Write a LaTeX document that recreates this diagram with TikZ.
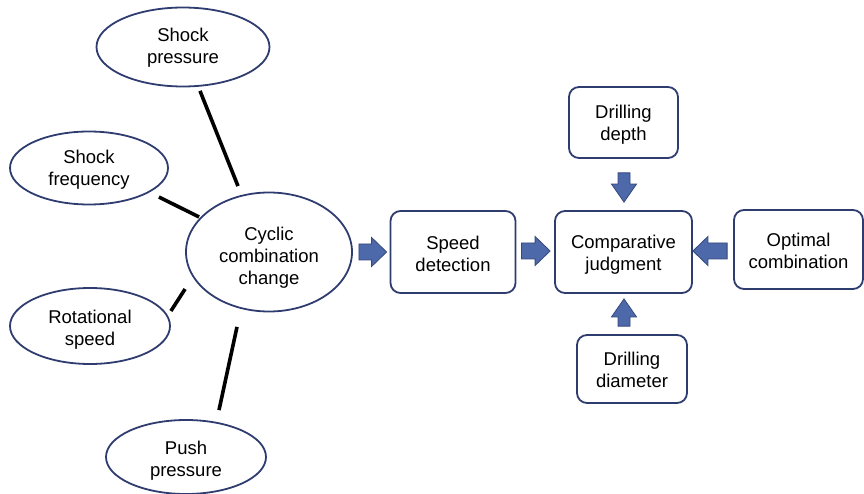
\documentclass[tikz,border=0pt]{standalone}
\usepackage{fontspec}
\setmainfont{Liberation Sans}
\usetikzlibrary{calc,shapes.geometric}
\definecolor{edge}{HTML}{2F3C70}
\definecolor{afill}{HTML}{4E69AA}
\definecolor{aline}{HTML}{34497E}
\newcommand\nodetxt[2]{\raisebox{0pt}[\dimexpr\height+#1\relax]{\begin{tabular}{@{}c@{}}#2\end{tabular}}}
\tikzset{
  txt/.style={font=\fontsize{18.5}{22}\selectfont, text=black},
  oval/.style={txt, ellipse, draw=edge, line width=1.8pt, inner sep=0pt},
  rbox/.style={txt, draw=edge, line width=1.8pt, rounded corners=10pt, inner sep=0pt},
  link/.style={line width=3.6pt, black},
  arr/.style={fill=afill, draw=aline, line width=0.8pt, line join=miter},
}
\newcommand\fatarrow[5]{% #1 from, #2 to, #3 head length, #4 shaft half, #5 head half
  \coordinate (faA) at #1;
  \coordinate (faB) at #2;
  \coordinate (faH) at ($(faB)!#3!(faA)$);
  \filldraw[arr] ($(faA)!#4!90:(faB)$) -- ($(faH)!#4!-90:(faA)$) -- ($(faH)!#5!-90:(faA)$)
    -- (faB) -- ($(faH)!#5!90:(faA)$) -- ($(faH)!#4!90:(faA)$) -- ($(faA)!#4!-90:(faB)$) -- cycle;
}
\begin{document}
\begin{tikzpicture}[x=1pt, y=-1pt]
\useasboundingbox (0,0) rectangle (864,494);
% ellipses
\node[oval, minimum width=173pt, minimum height=79pt] (sp) at (183,47) {\nodetxt{3pt}{Shock\\pressure}};
\node[oval, minimum width=158pt, minimum height=73pt] (sf) at (89,168) {\nodetxt{5pt}{Shock\\frequency}};
\node[oval, minimum width=166pt, minimum height=119pt] (cc) at (269,252) {\nodetxt{12pt}{Cyclic\\combination\\change}};
\node[oval, minimum width=160pt, minimum height=76pt] (rs) at (90,326) {\nodetxt{8pt}{Rotational\\speed}};
\node[oval, minimum width=160pt, minimum height=74pt] (pp) at (186,457) {\nodetxt{8pt}{Push\\pressure}};
% boxes
\node[rbox, minimum width=125pt, minimum height=82pt] (sd) at (453,252) {\nodetxt{8pt}{Speed\\detection}};
\node[rbox, minimum width=137pt, minimum height=82pt] (cj) at (623.5,252) {\nodetxt{6pt}{Comparative\\judgment}};
\node[rbox, minimum width=129pt, minimum height=79pt] (oc) at (798.5,249.5) {\nodetxt{8pt}{Optimal\\combination}};
\node[rbox, minimum width=109pt, minimum height=71pt] (dd) at (623.5,122.5) {\nodetxt{6pt}{Drilling\\depth}};
\node[rbox, minimum width=110pt, minimum height=68pt] (di) at (632,369) {\nodetxt{6pt}{Drilling\\diameter}};
% black links
\draw[link] ($(sp.south)+(17,3.5)$) -- ($(cc.north)+(-31,-5.5)$);
\draw[link] ($(sf.east)+(-10,29)$) -- ($(cc.west)+(14,-35)$);
\draw[link] ($(rs.east)+(0,-15)$) -- ($(cc.west)+(0,37)$);
\draw[link] ($(pp.north)+(33,-9)$) -- ($(cc.south)+(-32,14.5)$);
% block arrows
\fatarrow{($(cc.east)+(6,0)$)}{($(sd.west)+(-3,0)$)}{15pt}{8pt}{14.5pt}
\fatarrow{($(sd.east)+(5,-1)$)}{($(cj.west)+(-4,-1)$)}{15pt}{8pt}{14.5pt}
\fatarrow{($(oc.west)+(-6,1.5)$)}{($(cj.east)+(0,-1)$)}{15pt}{8pt}{14.5pt}
\fatarrow{($(dd.south)+(0.5,14)$)}{($(cj.north)+(0.5,-8)$)}{18pt}{6pt}{12.5pt}
\fatarrow{($(di.north)+(-8,-8)$)}{($(cj.south)+(0.5,5)$)}{18pt}{6pt}{12.5pt}
\end{tikzpicture}
\end{document}
